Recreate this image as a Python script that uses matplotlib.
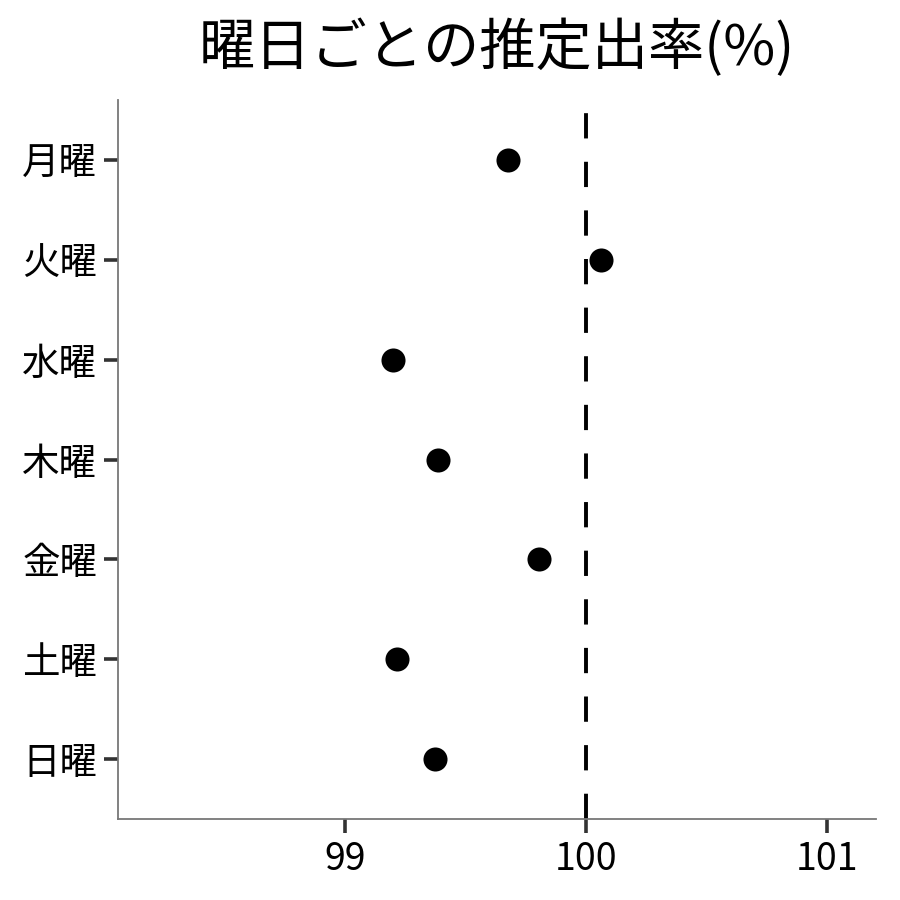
import matplotlib
matplotlib.use("Agg")
import matplotlib.pyplot as plt

plt.rcParams['font.family'] = ['Noto Sans CJK JP', 'DejaVu Sans']

days = ["月曜", "火曜", "水曜", "木曜", "金曜", "土曜", "日曜"]
rates = [99.676, 100.062, 99.199, 99.386, 99.805, 99.216, 99.373]
ref_rate = 100.0
xticks = [99, 100, 101]

fig = plt.figure(figsize=(9, 9), dpi=100)
ax = fig.add_axes([118 / 900, 1 - 819 / 900, (876 - 118) / 900, (819 - 100) / 900])

pos = list(range(len(days)))
ax.scatter(rates, pos, s=300, color="black", zorder=3, linewidths=0)
ax.axvline(ref_rate, color="black", lw=2.8, ls=(0, (6.5, 6.0)), zorder=2)

ax.set_yticks(pos)
ax.set_yticklabels(days)
ax.set_ylim(len(days) - 0.4, -0.6)
ax.set_xlim(98.058, 101.203)
ax.set_xticks(xticks)
ax.set_xticklabels([str(t) for t in xticks])

for s in ("top", "right"):
    ax.spines[s].set_visible(False)
for s in ("left", "bottom"):
    ax.spines[s].set_color("#777777")
    ax.spines[s].set_linewidth(1.3)
ax.tick_params(axis="both", length=10, width=2.6, color="#333333",
               labelsize=27, labelcolor="black", pad=5)

# title centred over the panel, as in the reference
fig.text(497 / 900, 1 - 49 / 900, "曜日ごとの推定出率(%)", fontsize=40.5,
         ha="center", va="center")

fig.savefig("out.png", dpi=100)
